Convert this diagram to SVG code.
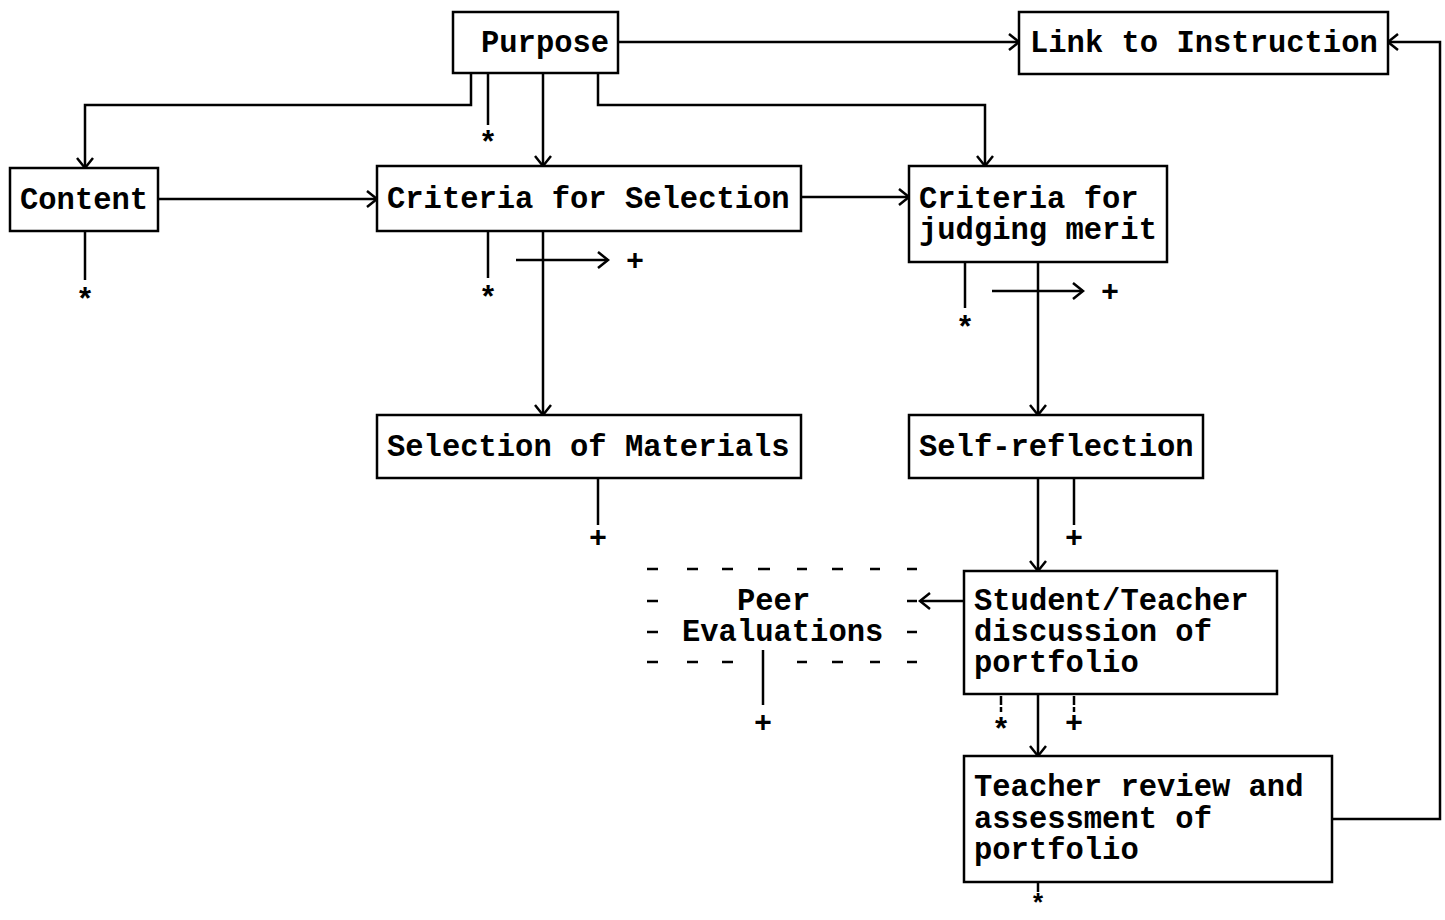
<svg xmlns="http://www.w3.org/2000/svg" width="1445" height="920" viewBox="0 0 1445 920">
<defs>
<style>
.box{fill:#fff;stroke:#000;stroke-width:2.5}
.t{font-family:"Liberation Mono","DejaVu Sans Mono",monospace;font-weight:bold;font-size:30.5px;fill:#000}
.s{font-family:"Liberation Mono","DejaVu Sans Mono",monospace;font-weight:bold;font-size:31px;fill:#000;text-anchor:middle}
.p{font-family:"Liberation Mono","DejaVu Sans Mono",monospace;font-weight:bold;font-size:30px;fill:#000;text-anchor:middle}
.c{fill:none;stroke:#000;stroke-width:2.5}
.d{fill:none;stroke:#000;stroke-width:2.5;stroke-dasharray:9 2 6 2}
.ar{marker-end:url(#arr)}
.pe{fill:none;stroke:#000;stroke-width:2.5}
</style>
<marker id="arr" markerUnits="userSpaceOnUse" markerWidth="16" markerHeight="22" viewBox="-3 -11 16 22" refX="10" refY="0" orient="auto">
<path d="M0,-8 L10,0 L0,8" fill="none" stroke="#000" stroke-width="2.5"/>
</marker>
</defs>
<rect width="1445" height="920" fill="#fff"/>

<g id="connectors">
<path class="c ar" d="M618,42 H1019"/>
<path class="c ar" d="M471,73 V105 H85 V168"/>
<path class="c" d="M488,73 V125"/>
<path class="c ar" d="M543,73 V166"/>
<path class="c ar" d="M598,73 V105 H985 V166"/>
<path class="c ar" d="M158,199 H377"/>
<path class="c ar" d="M801,197 H909"/>
<path class="c" d="M85,231 V280"/>
<path class="c" d="M488,231 V278"/>
<path class="c ar" d="M543,231 V415"/>
<path class="c ar" d="M516,260 H608"/>
<path class="c" d="M965,262 V308"/>
<path class="c ar" d="M1038,262 V415"/>
<path class="c ar" d="M992,291 H1083"/>
<path class="c" d="M598,478 V525"/>
<path class="c ar" d="M1038,478 V571"/>
<path class="c" d="M1074,478 V525"/>
<path class="c ar" d="M964,601 H920"/>
<path class="c" d="M763,650 V705"/>
<path class="d" d="M1001,696 V712"/>
<path class="c ar" d="M1038,694 V756"/>
<path class="d" d="M1074,696 V712"/>
<path class="d" d="M1038,883 V892"/>
<path class="c ar" d="M1332,819 H1440 V42 H1388"/>
<g id="markers">
<text class="s" x="488" y="153">*</text>
<text class="s" x="85" y="310">*</text>
<text class="s" x="488" y="308">*</text>
<text class="p" x="635" y="270">+</text>
<text class="s" x="965" y="338">*</text>
<text class="p" x="1110" y="301">+</text>
<text class="p" x="598" y="547">+</text>
<text class="p" x="1074" y="547">+</text>
<text class="p" x="763" y="732">+</text>
<text class="s" x="1001" y="740">*</text>
<text class="p" x="1074" y="732">+</text>
<text class="s" x="1038" y="912" style="font-size:26px">*</text>
</g>
</g>

<g id="purpose"><rect class="box" x="453" y="12" width="165" height="61"/><text class="t" x="481" y="52">Purpose</text></g>
<g id="link"><rect class="box" x="1019" y="12" width="369" height="62"/><text class="t" x="1030" y="52">Link to Instruction</text></g>
<g id="content"><rect class="box" x="10" y="168" width="148" height="63"/><text class="t" x="20" y="209">Content</text></g>
<g id="criteria-selection"><rect class="box" x="377" y="166" width="424" height="65"/><text class="t" x="387" y="208">Criteria for Selection</text></g>
<g id="criteria-merit"><rect class="box" x="909" y="166" width="258" height="96"/><text class="t" x="919" y="208">Criteria for</text><text class="t" x="919" y="239">judging merit</text></g>
<g id="selection-materials"><rect class="box" x="377" y="415" width="424" height="63"/><text class="t" x="387" y="456">Selection of Materials</text></g>
<g id="self-reflection"><rect class="box" x="909" y="415" width="294" height="63"/><text class="t" x="919" y="456">Self-reflection</text></g>
<g id="discussion"><rect class="box" x="964" y="571" width="313" height="123"/><text class="t" x="974" y="610">Student/Teacher</text><text class="t" x="974" y="641">discussion of</text><text class="t" x="974" y="672">portfolio</text></g>
<g id="review"><rect class="box" x="964" y="756" width="368" height="126"/><text class="t" x="974" y="796">Teacher review and</text><text class="t" x="974" y="828">assessment of</text><text class="t" x="974" y="859">portfolio</text></g>
<g id="peer">
<path class="pe" d="M647,569 h11 M687,569 h11 M722,569 h11 M758,569 h12 M797,569 h10 M832,569 h11 M870,569 h10 M907,569 h10 M647,601 h11 M907,601 h10 M647,632 h11 M907,632 h10 M647,662 h11 M687,662 h11 M722,662 h11 M797,662 h10 M832,662 h11 M870,662 h10 M907,662 h10"/>
<text class="t" x="737" y="610">Peer</text>
<text class="t" x="682" y="641">Evaluations</text>
</g>
</svg>
